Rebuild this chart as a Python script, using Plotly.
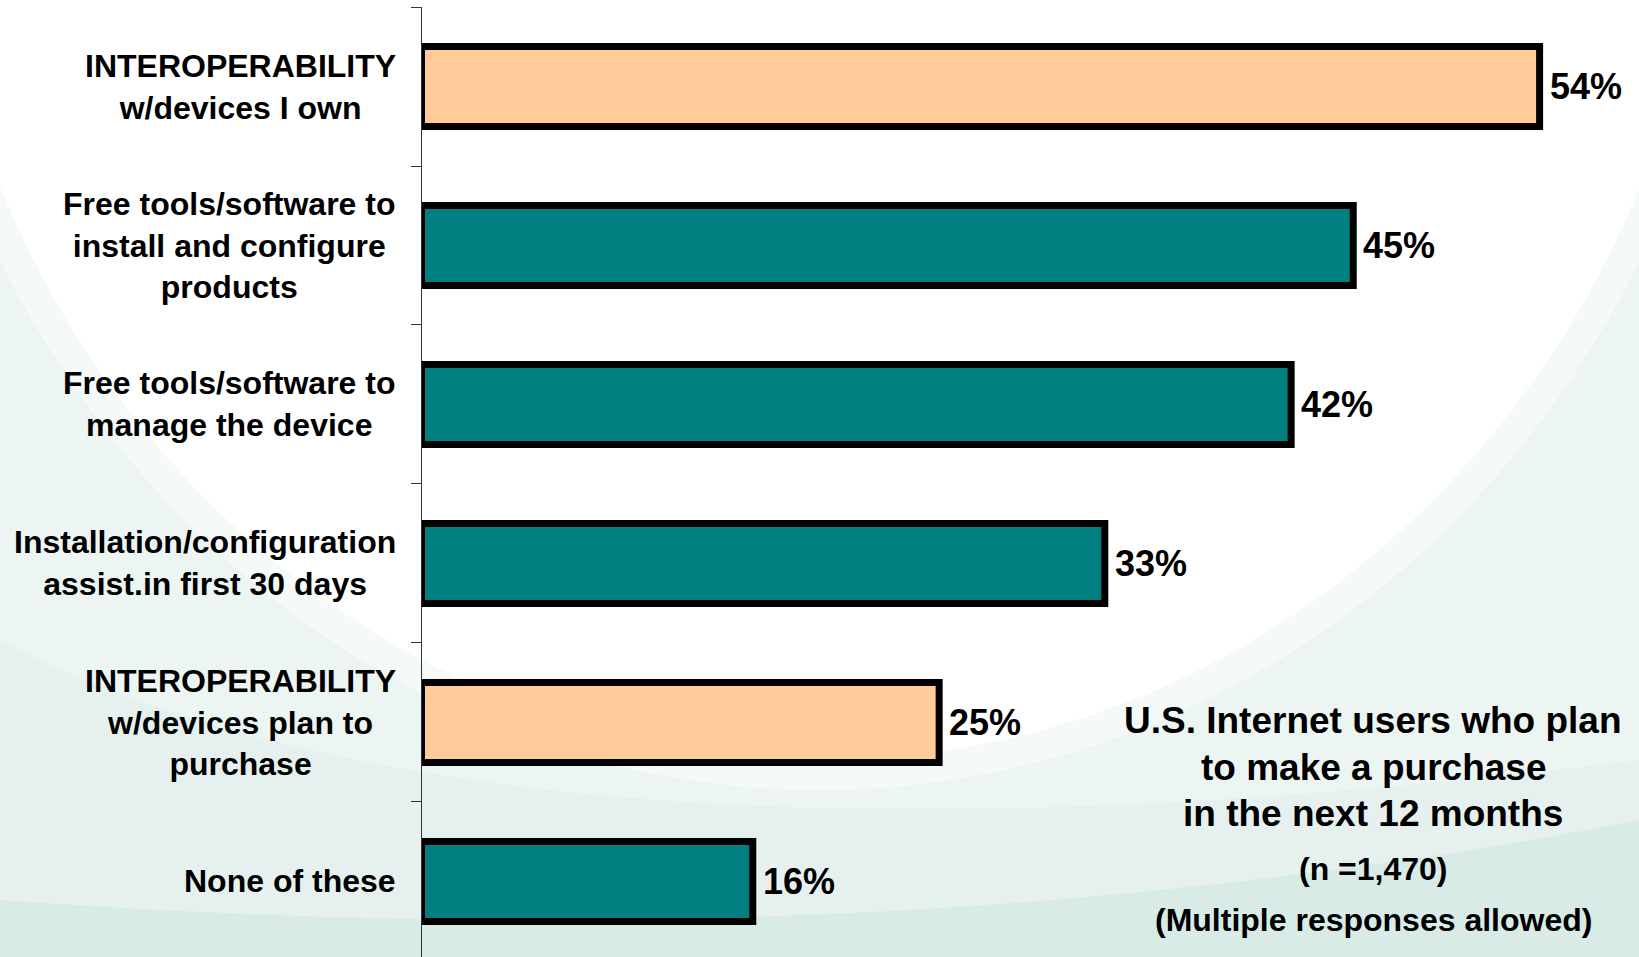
import plotly.graph_objects as go

# Survey responses (percent of respondents)
categories = [
    "INTEROPERABILITY<br>w/devices I own",
    "Free tools/software to<br>install and configure<br>products",
    "Free tools/software to<br>manage the device",
    "Installation/configuration<br>assist.in first 30 days",
    "INTEROPERABILITY<br>w/devices plan to<br>purchase",
    "None of these",
]
values = [54, 45, 42, 33, 25, 16]
bar_colors = ["#FFCC99", "#008080", "#008080", "#008080", "#FFCC99", "#008080"]

note_lines = [
    "U.S. Internet users who plan",
    "to make a purchase",
    "in the next 12 months",
    "(n =1,470)",
    "(Multiple responses allowed)",
]
note_sizes = [37, 37, 37, 32, 32]
note_rows = [720, 767, 813, 869, 920]  # vertical centres in px from top

W, H = 1639, 957
FONT = "Liberation Sans, Arial, sans-serif"


def px_x(x):
    return x / W


def px_y(y):
    return 1 - y / H


fig = go.Figure()
fig.add_trace(go.Bar(
    x=values,
    y=categories,
    orientation="h",
    width=0.503,
    cliponaxis=False,
    marker=dict(color=bar_colors, line=dict(color="black", width=7)),
    hoverinfo="skip",
))

annotations = []
# category labels, centred lines, right edge beside the axis
for cat in categories:
    annotations.append(dict(
        x=px_x(398), xref="paper", y=cat, yref="y",
        xanchor="right", yanchor="middle", align="center",
        text=cat, showarrow=False,
        font=dict(family=FONT, size=32, color="black", weight="bold"),
    ))
# value labels at bar ends
for cat, v in zip(categories, values):
    annotations.append(dict(
        x=v, xref="x", y=cat, yref="y",
        xanchor="left", yanchor="middle", xshift=8,
        text=f"{v}%", showarrow=False,
        font=dict(family=FONT, size=36, color="black", weight="bold"),
    ))
# sample note
for line, size, row in zip(note_lines, note_sizes, note_rows):
    annotations.append(dict(
        x=px_x(1373), xref="paper", y=px_y(row), yref="paper",
        xanchor="center", yanchor="middle",
        text=line, showarrow=False,
        font=dict(family=FONT, size=size, color="black", weight="bold"),
    ))

# soft mint backdrop with a white arc
shapes = [
    dict(type="rect", xref="paper", yref="paper", x0=0, x1=1, y0=0, y1=1,
         fillcolor="#edf5f3", line_width=0, layer="below"),
    dict(type="path", xref="paper", yref="paper",
         path=f"M 0,{px_y(640)} Q {px_x(500)},{px_y(900)} {px_x(1639)},{px_y(760)} "
              f"L 1,0 L 0,0 Z",
         fillcolor="#e6f1ef", line_width=0, layer="below"),
    dict(type="circle", xref="paper", yref="paper",
         x0=px_x(-106), x1=px_x(1746), y0=px_y(790), y1=px_y(-1190),
         fillcolor="#f5faf9", line_width=0, layer="below"),
    dict(type="circle", xref="paper", yref="paper",
         x0=px_x(-76), x1=px_x(1716), y0=px_y(760), y1=px_y(-1160),
         fillcolor="#ffffff", line_width=0, layer="below"),
    dict(type="path", xref="paper", yref="paper",
         path=f"M 0,{px_y(900)} Q {px_x(900)},{px_y(965)} {px_x(1639)},{px_y(820)} "
              f"L 1,0 L 0,0 Z",
         fillcolor="#d8ebe7", line_width=0, layer="below"),
]

fig.update_layout(
    width=W, height=H,
    margin=dict(l=0, r=0, t=0, b=0),
    paper_bgcolor="white",
    plot_bgcolor="rgba(0,0,0,0)",
    showlegend=False,
    bargap=0.5,
    xaxis=dict(domain=[421.5 / W, 1], range=[0, 58.8], visible=False),
    yaxis=dict(
        domain=[0, 1 - 7 / H],
        type="category",
        categoryorder="array", categoryarray=categories,
        range=[5.475, -0.5], autorange=False,
        showline=True, linecolor="#333333", linewidth=1,
        ticks="outside", ticklen=10, tickwidth=1, tickcolor="#333333",
        tickson="boundaries",
        showticklabels=False, showgrid=False, zeroline=False,
    ),
    annotations=annotations,
    shapes=shapes,
)

fig.write_html("out.html")
